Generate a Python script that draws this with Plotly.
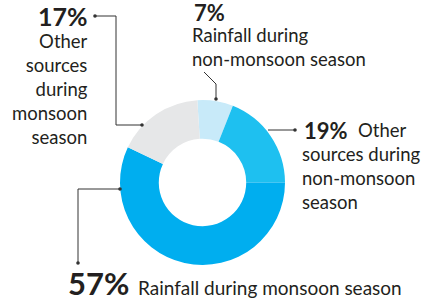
import plotly.graph_objects as go

# ---- data ----
labels = ["Rainfall during non-monsoon season",
          "Other sources during non-monsoon season",
          "Rainfall during monsoon season",
          "Other sources during monsoon season"]
values = [7, 19, 57, 17]
colors = ["#c8eaf9", "#1ec0f0", "#00aeef", "#e6e7e8"]

W, H = 427, 303
TXT = "#231f20"
FONT = "Lato"

def px(x):
    return x / W

def py(y):
    return 1 - y / H

# donut geometry (pixels)
cx, cy, R = 202.5, 182.5, 82.5

fig = go.Figure(go.Pie(
    labels=labels, values=values, sort=False, direction="clockwise",
    rotation=-3.6, hole=0.53, textinfo="none", hoverinfo="label+percent",
    marker=dict(colors=colors, line=dict(width=0)),
    domain=dict(x=[px(cx - R), px(cx + R)], y=[py(cy + R), py(cy - R)]),
    showlegend=False,
))

anns = []
def ann(text, x, y, size, bold=False, xanchor="left", yanchor="middle", align="left"):
    anns.append(dict(
        text=f"<b>{text}</b>" if bold else text,
        x=px(x), y=py(y), xref="paper", yref="paper",
        xanchor=xanchor, yanchor=yanchor, align=align, showarrow=False,
        font=dict(family=FONT, size=size, color=TXT),
    ))

ann("17%", 90, 16, 25, bold=True, xanchor="right")
ann("Other<br>sources<br>during<br>monsoon<br>season", 90, 89, 18.5, xanchor="right", align="right")
ann("7%", 192, 12, 22, bold=True)
ann("Rainfall during<br>non-monsoon season", 190, 47, 18.5)
ann("19%", 302, 130, 22, bold=True)
ann("Other", 356, 130, 18.5)
ann("sources during<br>non-monsoon<br>season", 300, 178, 18.5)
ann("57%", 66, 283, 31, bold=True)
ann("Rainfall during monsoon season", 136, 287, 19)

shapes = []
def path(pts):
    d = "M " + " L ".join(f"{px(x)},{py(y)}" for x, y in pts)
    shapes.append(dict(type="path", path=d, xref="paper", yref="paper",
                       line=dict(color="#333333", width=1)))

def dot(x, y, r=1.8):
    shapes.append(dict(type="circle", xref="paper", yref="paper",
                       x0=px(x - r), x1=px(x + r), y0=py(y + r), y1=py(y - r),
                       fillcolor="#333333", line=dict(width=0)))

path([(95, 16), (116, 16), (116, 125), (142, 125)]); dot(95, 16); dot(142, 125)
path([(204, 72), (216, 84), (216, 99)]); dot(216, 99)
path([(268, 130), (295, 130)]); dot(295, 130)
path([(120, 189), (78, 189), (78, 263)]); dot(120, 189); dot(78, 263)

fig.update_layout(
    width=W, height=H, margin=dict(l=0, r=0, t=0, b=0),
    paper_bgcolor="white", plot_bgcolor="white",
    annotations=anns, shapes=shapes,
)
fig.write_html("out.html", config={"displayModeBar": False},
               post_script="document.body.style.margin='0';")
